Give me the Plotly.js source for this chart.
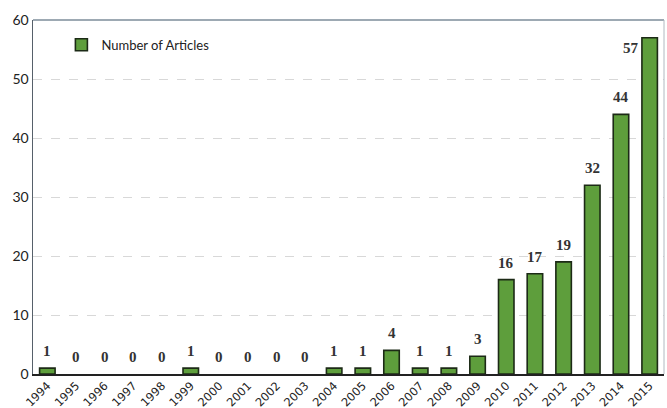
<!DOCTYPE html>
<html><head><meta charset="utf-8">
<script src="https://cdn.plot.ly/plotly-3.0.1.min.js"></script>
<style>html,body{margin:0;padding:0;background:#fff}#chart{width:667px;height:408px}</style>
</head><body><div id="chart"></div>
<script>
const years = ["1994","1995","1996","1997","1998","1999","2000","2001","2002","2003","2004","2005","2006","2007","2008","2009","2010","2011","2012","2013","2014","2015"];
const articles = [1,0,0,0,0,1,0,0,0,0,1,1,4,1,1,3,16,17,19,32,44,57];
const seriesName = "Number of Articles";

const annotations = years.map((y, i) => {
  const last = i === years.length - 1;
  return {
    x: i, y: articles[i], xref: 'x', yref: 'y',
    text: String(articles[i]), showarrow: false,
    yanchor: last ? 'top' : 'bottom',
    xanchor: last ? 'right' : 'center',
    xshift: last ? -9 : 0, yshift: last ? 0 : 7,
    font: {family: 'Liberation Serif, Times New Roman, serif', size: 15, color: '#333', weight: 'bold'}
  };
});

const trace = {
  type: 'bar', x: years, y: articles, name: seriesName,
  marker: {color: '#5e9e3c', line: {color: '#1c2a16', width: articles.map(v => v > 0 ? 1.6 : 0)}},
  showlegend: true
};

const layout = {
  width: 667, height: 408,
  margin: {l: 33, r: 3, t: 20, b: 34},
  paper_bgcolor: '#fff', plot_bgcolor: '#fff',
  bargap: 0.46,
  font: {family: 'Lato, Open Sans, sans-serif', color: '#222'},
  xaxis: {
    type: 'category', range: [-0.5, years.length - 0.5], tickangle: -45, showline: true, linecolor: '#222', linewidth: 1.5,
    ticks: '', tickfont: {family: 'DejaVu Sans, sans-serif', size: 11.5, color: '#222'},
    ticklabelstandoff: -1,
    automargin: false, showgrid: false
  },
  yaxis: {
    range: [0, 60], dtick: 10, showline: true, linecolor: '#56606a', linewidth: 1.5,
    showgrid: true, gridcolor: '#d8d8d8', griddash: 'dash', gridwidth: 1,
    zeroline: false, ticks: '', tickfont: {family: 'Lato, sans-serif', size: 14, color: '#222'},
    automargin: false
  },
  legend: {x: 0.045, y: 0.93, xanchor: 'left', yanchor: 'middle', bgcolor: 'rgba(0,0,0,0)',
           font: {family: 'Lato, sans-serif', size: 13, color: '#222'}, itemwidth: 30},
  annotations: annotations,
  shapes: [
    {type: 'line', xref: 'paper', yref: 'paper', x0: 0, x1: 1, y0: 1, y1: 1, line: {color: '#7d8c9a', width: 1.5}},
    {type: 'line', xref: 'paper', yref: 'paper', x0: 1, x1: 1, y0: 0, y1: 1, line: {color: '#b0b8c0', width: 1}}
  ]
};

Plotly.newPlot('chart', [trace], layout, {displayModeBar: false, staticPlot: true});
</script></body></html>
